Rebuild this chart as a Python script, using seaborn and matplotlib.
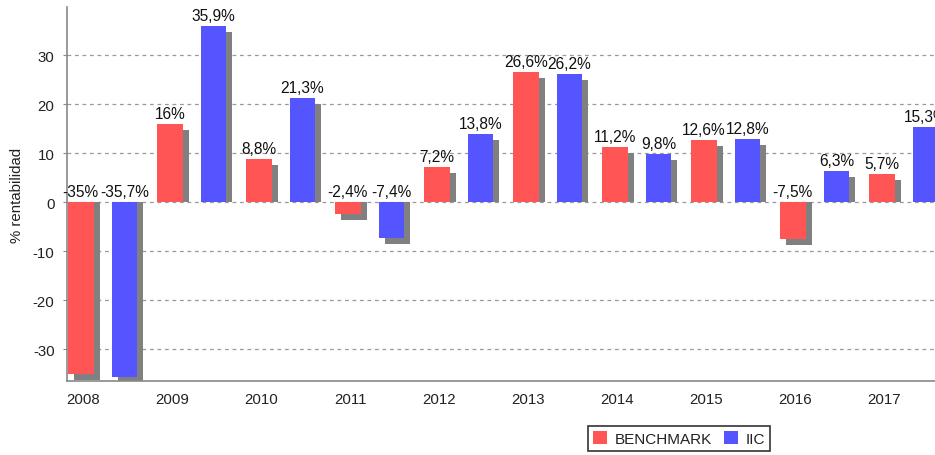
import numpy as np
import pandas as pd
import matplotlib
matplotlib.use("Agg")
import matplotlib.pyplot as plt
import matplotlib.transforms as mtransforms
from matplotlib.patches import Patch
import seaborn as sns

years = ["2008", "2009", "2010", "2011", "2012", "2013", "2014", "2015", "2016", "2017"]
benchmark = [-35.0, 16.0, 8.8, -2.4, 7.2, 26.6, 11.2, 12.6, -7.5, 5.7]
iic = [-35.7, 35.9, 21.3, -7.4, 13.8, 26.2, 9.8, 12.8, 6.3, 15.3]
series_names = ["BENCHMARK", "IIC"]
colors = ["#FF5555", "#5555FF"]
shadow_color = "#808080"

sns.set_style("white")
plt.rcParams["font.family"] = ["Liberation Sans", "DejaVu Sans"]
plt.rcParams["axes.unicode_minus"] = False

df = pd.DataFrame({
    "year": years * 2,
    "value": benchmark + iic,
    "series": [series_names[0]] * len(years) + [series_names[1]] * len(years),
})

fig = plt.figure(figsize=(9.35, 4.56), dpi=100)
ax_h_px = 382 - 8
ax = fig.add_axes([67 / 935, 1 - 382 / 456, 1 - 67 / 935, ax_h_px / 456])

ylim = (-36.5, 39.8)
half = 0.245
bar_w = 0.287
shadow_px = 6
shift = shadow_px * (ylim[1] - ylim[0]) / ax_h_px

# shadows: offset right, far end lowered by the same amount
shadow_tr = ax.transData + mtransforms.ScaledTranslation(shadow_px / 100, 0, fig.dpi_scale_trans)
xpos = np.arange(len(years))
for k, vals in enumerate([benchmark, iic]):
    off = -half if k == 0 else half
    v = np.array(vals)
    ax.bar(xpos + off, v - shift, width=bar_w, color=shadow_color, transform=shadow_tr,
           zorder=1, linewidth=0)

sns.barplot(data=df, x="year", y="value", hue="series", order=years,
            hue_order=series_names, palette=colors, width=0.98, gap=0.414,
            saturation=1, ax=ax, zorder=2, linewidth=0, legend=False)

# data labels
lbl_tr = ax.transData + mtransforms.ScaledTranslation(0, 3 / 100, fig.dpi_scale_trans)
for k, vals in enumerate([benchmark, iic]):
    off = -half if k == 0 else half
    for i, v in enumerate(vals):
        s = (f"{v:g}").replace(".", ",") + "%"
        ax.text(i + off, max(v, 0), s, ha="center", va="bottom", fontsize=11.2,
                color="#111111", transform=lbl_tr, zorder=5, clip_on=False)

ax.set_xlim(-0.155 - half, 9.598 - half)
ax.set_ylim(*ylim)
ax.set_yticks([-30, -20, -10, 0, 10, 20, 30])
ax.set_xticks(xpos - half + 0.03)
ax.set_xticklabels(years)
ax.yaxis.grid(True, linestyle=(0, (3, 3)), color="#999999", linewidth=0.9)
ax.set_axisbelow(True)
for sp in ["top", "right"]:
    ax.spines[sp].set_visible(False)
for sp in ["left", "bottom"]:
    ax.spines[sp].set_color("#888888")
    ax.spines[sp].set_linewidth(1.2)
ax.tick_params(axis="y", length=3, color="#888888", labelsize=10.8, labelcolor="#222222", pad=6, left=True)
ax.tick_params(axis="x", length=0, labelsize=10.8, labelcolor="#222222", pad=8)
ax.set_xlabel("")
ax.set_ylabel("% rentabilidad", fontsize=10.8, color="#222222", labelpad=6)

handles = [Patch(facecolor=c, edgecolor="none") for c in colors]
leg = fig.legend(handles, series_names, loc="center", bbox_to_anchor=(679 / 935, 1 - 439.5 / 456),
                 ncol=2, frameon=True, fancybox=False, fontsize=11, handlelength=0.9,
                 handleheight=0.9, handletextpad=0.5, columnspacing=0.8, borderpad=0.35,
                 edgecolor="black")
leg.get_frame().set_linewidth(1.2)
for t in leg.get_texts():
    t.set_color("#222222")

fig.savefig("out.png", dpi=100)
